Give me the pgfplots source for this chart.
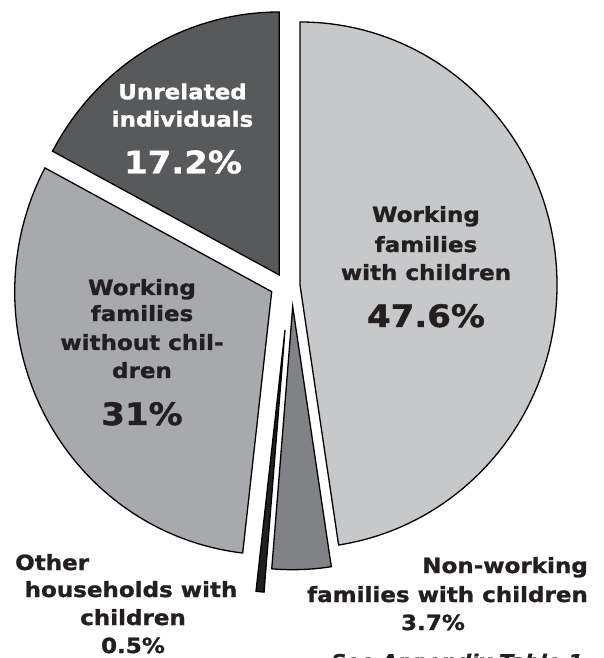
\documentclass[border=0pt]{standalone}
\usepackage{fontspec}
\setmainfont{DejaVu Sans}[FakeStretch=1.1, BoldFeatures={FakeBold=1.2}, BoldItalicFeatures={FakeBold=1.2}]
\usepackage{pgfplots}
\pgfplotsset{compat=1.18}
\usepackage{pgfplotstable}
\definecolor{pie0}{HTML}{C7C8CA}
\definecolor{pie1}{HTML}{808285}
\definecolor{pie2}{HTML}{231F20}
\definecolor{pie3}{HTML}{A7A9AC}
\definecolor{pie4}{HTML}{58595B}
\definecolor{txt}{HTML}{231F20}
\newcommand\lbl{\fontsize{21}{25}\selectfont\bfseries}
\newcommand\pct{\fontsize{31}{36}\selectfont\bfseries}
% share (%), position of each slice's tip
\pgfplotstableread{
value tipx tipy
47.6 300.0 373.0
3.7 292.7 351.3
0.5 285.0 328.0
31.0 271.7 366.3
17.2 279.3 383.0
}\piedata
\begin{document}
\begin{tikzpicture}
\gdef\piecum{90}
\pgfplotsforeachungrouped \i in {0,...,4}{%
  \pgfplotstablegetelem{\i}{value}\of\piedata
  \pgfmathsetmacro\pieend{\piecum-3.6*\pgfplotsretval}%
  \expandafter\xdef\csname piesa\i\endcsname{\piecum}%
  \expandafter\xdef\csname pieea\i\endcsname{\pieend}%
  \xdef\piecum{\pieend}%
  \pgfplotstablegetelem{\i}{tipx}\of\piedata
  \expandafter\xdef\csname pietx\i\endcsname{\pgfplotsretval}%
  \pgfplotstablegetelem{\i}{tipy}\of\piedata
  \expandafter\xdef\csname piety\i\endcsname{\pgfplotsretval}%
}
\begin{axis}[hide axis, scale only axis, width=604bp, height=658bp,
  xmin=0, xmax=604, ymin=0, ymax=658, clip=false]
\pgfplotsinvokeforeach{0,...,4}{%
  \edef\temp{\noexpand\filldraw[fill=pie#1, draw=black, line width=1.3bp, line join=miter]
    (axis cs:\csname pietx#1\endcsname,\csname piety#1\endcsname)
    -- ++(\csname piesa#1\endcsname:257bp and 263bp)
    arc[start angle=\csname piesa#1\endcsname, end angle=\csname pieea#1\endcsname, x radius=257bp, y radius=263bp] -- cycle;}%
  \temp
}
% Working families with children
\node[anchor=base, text=txt, font=\lbl, inner sep=0] at (axis cs:426,436) {Working};
\node[anchor=base, text=txt, font=\lbl, inner sep=0] at (axis cs:426,406) {families};
\node[anchor=base, text=txt, font=\lbl, inner sep=0] at (axis cs:426,378) {with children};
\node[anchor=base, text=txt, font=\pct, inner sep=0] at (axis cs:426,331) {47.6\%};
% Unrelated
\node[anchor=base, text=white, font=\lbl, inner sep=0] at (axis cs:182.5,558.7) {Unrelated};
\node[anchor=base, text=white, font=\lbl, inner sep=0] at (axis cs:182.5,531.3) {individuals};
\node[anchor=base, text=white, font=\pct, inner sep=0] at (axis cs:183,484.7) {17.2\%};
% Working families without children
\node[anchor=base, text=txt, font=\lbl, inner sep=0] at (axis cs:142,363) {Working};
\node[anchor=base, text=txt, font=\lbl, inner sep=0] at (axis cs:142,337) {families};
\node[anchor=base, text=txt, font=\lbl, inner sep=0] at (axis cs:142,308) {without chil-};
\node[anchor=base, text=txt, font=\lbl, inner sep=0] at (axis cs:142,280) {dren};
\node[anchor=base, text=txt, font=\pct, inner sep=0] at (axis cs:142,233) {31\%};
% Other households
\node[anchor=base west, text=txt, font=\lbl, inner sep=0] at (axis cs:15,88) {Other};
\node[anchor=base, text=txt, font=\lbl, inner sep=0] at (axis cs:131,61) {households with};
\node[anchor=base, text=txt, font=\lbl, inner sep=0] at (axis cs:133,33) {children};
\node[anchor=base, text=txt, font=\lbl, inner sep=0] at (axis cs:133,5) {0.5\%};
% Non-working
\node[anchor=base east, text=txt, font=\lbl, inner sep=0] at (axis cs:588,85) {Non-working};
\node[anchor=base east, text=txt, font=\lbl, inner sep=0] at (axis cs:588,56) {families with children};
\node[anchor=base, text=txt, font=\lbl, inner sep=0] at (axis cs:433,28) {3.7\%};
% source line (cut off at the lower edge, as in the reference)
\node[anchor=base east, text=txt, font=\fontsize{19}{22}\selectfont\bfseries\itshape, inner sep=0] at (axis cs:583,-10) {See Appendix Table 1};
\end{axis}
\pgfresetboundingbox
\path[use as bounding box] (current axis.south west) rectangle (current axis.north east);
\end{tikzpicture}
\end{document}
